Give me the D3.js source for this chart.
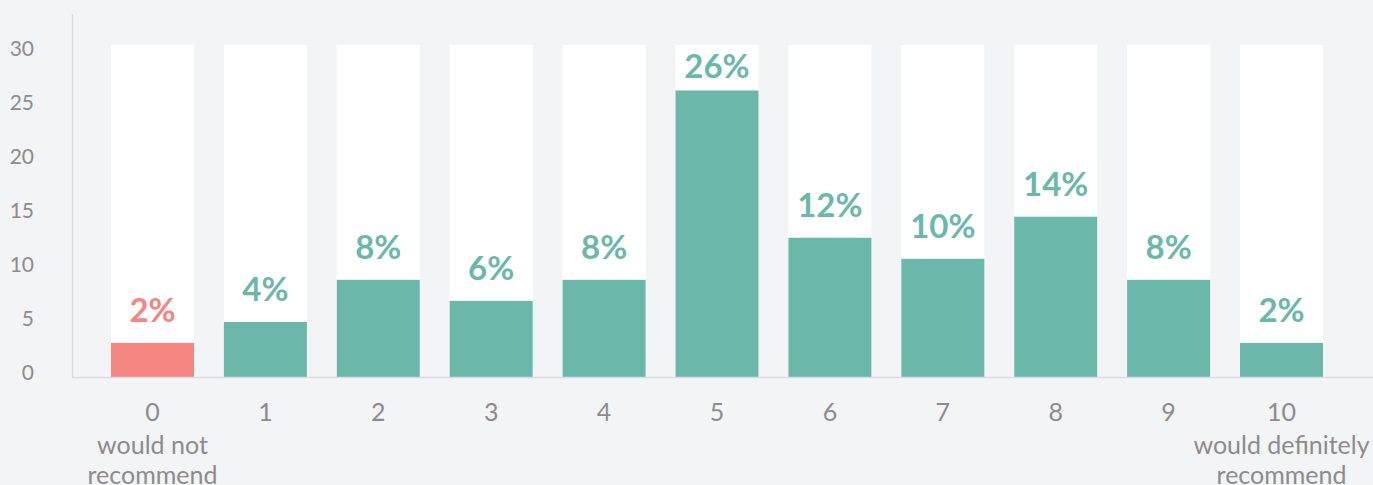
<!DOCTYPE html>
<html>
<head>
<meta charset="utf-8">
<script src="https://cdn.jsdelivr.net/npm/d3@7"></script>
<style>
  html, body { margin: 0; padding: 0; background: #f3f4f6; }
  svg { display: block; }
  text { font-family: "Lato", "Open Sans", sans-serif; }
</style>
</head>
<body>
<svg id="chart" width="1373" height="485"></svg>
<script>
// Net-promoter style score distribution (share of respondents per score)
const scores = ["0", "1", "2", "3", "4", "5", "6", "7", "8", "9", "10"];
const shares = [2, 4, 8, 6, 8, 26, 12, 10, 14, 8, 2];
const scoreNotes = { "0": ["would not", "recommend"], "10": ["would definitely", "recommend"] };
const yTicks = [0, 5, 10, 15, 20, 25, 30];
const yMax = 30;

const TEAL = "#6bb8aa";
const CORAL = "#f48580";
const AXIS = "#d5dce3";
const MUTED = "#8c8c8c";

const svg = d3.select("#chart");

const plotTop = 45, plotBottom = 377;
const axisX = 72;

const x = d3.scaleBand()
  .domain(scores)
  .range([111, 1323])
  .paddingInner(0.265)
  .paddingOuter(0);

// bars rise from a small base stub under the zero level
const y = d3.scaleLinear().domain([0, yMax]).range([364, 48.4]);
// tick label placement along the left axis
const yLab = d3.scaleLinear().domain([0, yMax]).range([372, 47.7]);

// axis lines
svg.append("line")
  .attr("x1", axisX + 0.5).attr("x2", axisX + 0.5)
  .attr("y1", 14).attr("y2", plotBottom)
  .attr("stroke", AXIS).attr("stroke-width", 1.5);

// left tick labels
const yAxis = d3.axisLeft(yLab).tickValues(yTicks).tickSize(0).tickPadding(0);
const gy = svg.append("g").attr("transform", "translate(34,0)").call(yAxis);
gy.select(".domain").remove();
gy.selectAll("text")
  .attr("fill", MUTED)
  .attr("font-size", 21)
  .attr("dy", "0.35em")
  .style("font-family", "Lato, 'Open Sans', sans-serif");

// background tracks
svg.append("g").selectAll("rect")
  .data(scores)
  .join("rect")
  .attr("x", d => x(d))
  .attr("width", x.bandwidth())
  .attr("y", plotTop)
  .attr("height", plotBottom - plotTop + 1)
  .attr("fill", "#ffffff");

// value bars
svg.append("g").selectAll("rect")
  .data(shares)
  .join("rect")
  .attr("x", (d, i) => x(scores[i]))
  .attr("width", x.bandwidth())
  .attr("y", d => y(d))
  .attr("height", d => plotBottom + 1 - y(d))
  .attr("fill", (d, i) => i === 0 ? CORAL : TEAL);

// baseline
svg.append("line")
  .attr("x1", axisX).attr("x2", 1373)
  .attr("y1", plotBottom + 0.5).attr("y2", plotBottom + 0.5)
  .attr("stroke", AXIS).attr("stroke-width", 1.5);

// percentage labels
svg.append("g").selectAll("text")
  .data(shares)
  .join("text")
  .attr("x", (d, i) => x(scores[i]) + x.bandwidth() / 2)
  .attr("y", d => Math.max(y(d) - 21, plotTop + 33))
  .attr("text-anchor", "middle")
  .attr("font-size", 33)
  .attr("font-weight", 700)
  .attr("fill", (d, i) => i === 0 ? CORAL : TEAL)
  .text(d => d + "%");

// category labels
const gx = svg.append("g").selectAll("g")
  .data(scores)
  .join("g")
  .attr("transform", d => `translate(${x(d) + x.bandwidth() / 2},0)`);

gx.append("text")
  .attr("y", 412)
  .attr("dy", "0.35em")
  .attr("text-anchor", "middle")
  .attr("font-size", 25)
  .attr("fill", MUTED)
  .text(d => d);

gx.each(function (d) {
  const lines = scoreNotes[d];
  if (!lines) return;
  d3.select(this).selectAll("text.note")
    .data(lines)
    .join("text")
    .attr("class", "note")
    .attr("y", (l, k) => 445 + k * 30)
    .attr("dy", "0.35em")
    .attr("text-anchor", "middle")
    .attr("font-size", 25)
    .attr("fill", MUTED)
    .text(l => l);
});
</script>
</body>
</html>
